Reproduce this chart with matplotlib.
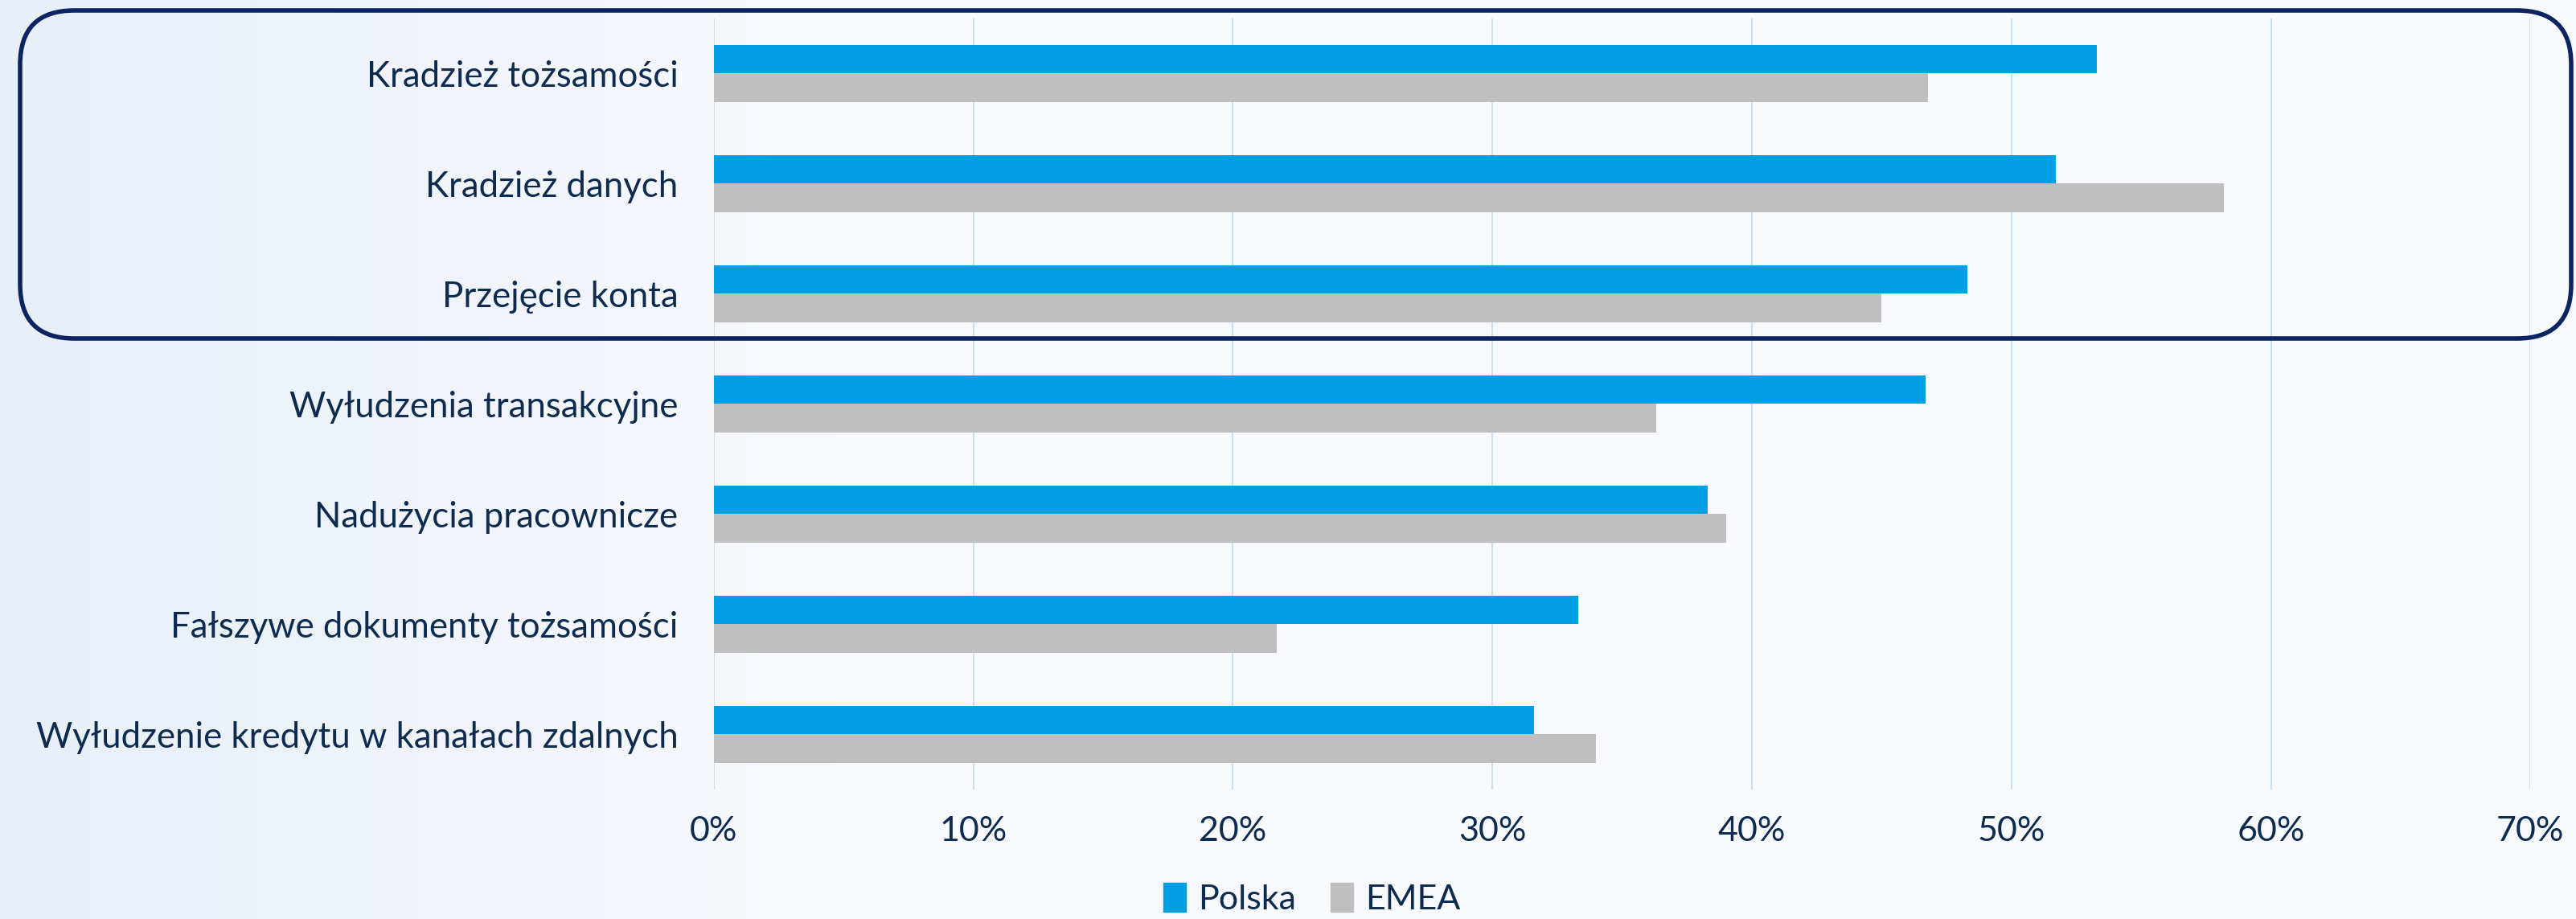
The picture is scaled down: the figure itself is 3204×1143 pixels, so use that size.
import numpy as np
import matplotlib.pyplot as plt
from matplotlib.patches import FancyBboxPatch, Patch
from matplotlib.ticker import FuncFormatter

# categories top to bottom
categories = [
    "Kradzież tożsamości",
    "Kradzież danych",
    "Przejęcie konta",
    "Wyłudzenia transakcyjne",
    "Nadużycia pracownicze",
    "Fałszywe dokumenty tożsamości",
    "Wyłudzenie kredytu w kanałach zdalnych",
]
polska = [53.3, 51.7, 48.3, 46.7, 38.3, 33.3, 31.6]
emea = [46.8, 58.2, 45.0, 36.3, 39.0, 21.7, 34.0]
xticks = [0, 10, 20, 30, 40, 50, 60, 70]

blue = "#009fe3"
grey = "#bfbfbf"
navy = "#0c2461"
txt = "#0d2b4e"

plt.rcParams['font.family'] = ['Lato', 'DejaVu Sans']

fig = plt.figure(figsize=(32.05, 11.43), dpi=100)
fig.patch.set_facecolor("#f6f8fc")

# very soft background shading: slightly bluish at the left edge
bg = fig.add_axes([0, 0, 1, 1], zorder=-5)
left_c = np.array([0.91, 0.937, 0.97])
mid_c = np.array([0.975, 0.98, 0.992])
t = np.linspace(0, 1, 400)
wgt = np.clip(t / 0.35, 0, 1)[:, None]
row = left_c * (1 - wgt) + mid_c * wgt
bg.imshow(row[np.newaxis, :, :], aspect='auto', extent=[0, 1, 0, 1])
bg.axis('off')

ax = fig.add_axes([0.277, 0.141, 0.705, 0.839])
ax.set_facecolor("none")

y = np.arange(len(categories))
h = 0.26
ax.barh(y - h / 2, polska, height=h, color=blue, label="Polska", zorder=3)
ax.barh(y + h / 2, emea, height=h, color=grey, label="EMEA", zorder=3)

ax.set_xlim(0, 70)
ax.set_ylim(len(categories) - 0.5, -0.5)
ax.set_xticks(xticks)
ax.xaxis.set_major_formatter(FuncFormatter(lambda v, p: f"{v:.0f}%"))
ax.set_yticks(y)
ax.set_yticklabels(categories)
ax.tick_params(axis='y', length=0, pad=32, labelsize=31.5, labelcolor=txt)
ax.tick_params(axis='x', length=0, pad=24, labelsize=31, labelcolor=txt)
ax.grid(axis='x', color="#c3e1f7", linewidth=1.4, zorder=0)
ax.set_axisbelow(True)
for s in ax.spines.values():
    s.set_visible(False)

# highlight box round the first three categories
W, H = 3205, 1143
x0, x1 = 25, 3198
y0, y1 = 13, 421
box = FancyBboxPatch((x0 / W, 1 - y1 / H), (x1 - x0) / W, (y1 - y0) / H,
                     boxstyle="round,pad=0,rounding_size=0.021",
                     transform=fig.transFigure, fill=False,
                     edgecolor=navy, linewidth=4, zorder=10,
                     mutation_aspect=W / H)
fig.patches.append(box)

handles = [Patch(color=blue, label="Polska"), Patch(color=grey, label="EMEA")]
fig.legend(handles=handles, loc='center', bbox_to_anchor=(0.509, 0.022),
           ncol=2, frameon=False, fontsize=31, labelcolor=txt,
           handlelength=0.65, handleheight=0.9, handletextpad=0.35,
           columnspacing=1.0)

fig.savefig("out.png", dpi=100, facecolor=fig.get_facecolor())
